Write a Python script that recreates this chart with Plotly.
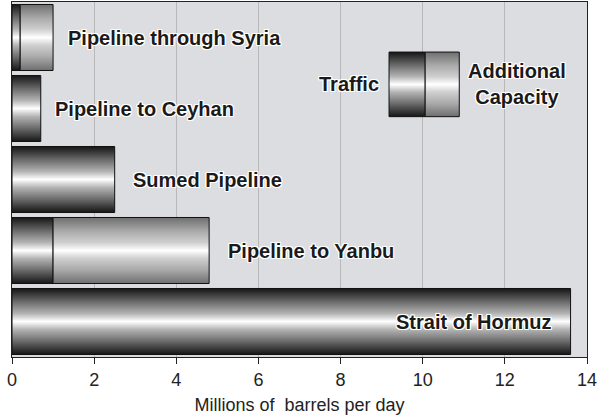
import plotly.graph_objects as go

# ---- data ----
categories = ["Strait of Hormuz", "Pipeline to Yanbu", "Sumed Pipeline",
              "Pipeline to Ceyhan", "Pipeline through Syria"]
traffic = [13.6, 1.0, 2.5, 0.7, 0.2]
additional = [0.0, 3.8, 0.0, 0.0, 0.8]
x_ticks = [0, 2, 4, 6, 8, 10, 12, 14]

# ---- styles ----
FONT = "Liberation Sans, Arial, Helvetica, sans-serif"
dark_scale = [[0, "#151515"], [0.2, "#6a6a6a"], [0.38, "#b4b4b4"], [0.5, "#ffffff"],
              [0.62, "#b4b4b4"], [0.8, "#6a6a6a"], [1, "#151515"]]
light_scale = [[0, "#6e6e6e"], [0.2, "#a8a8a8"], [0.38, "#cfcfcf"], [0.5, "#ffffff"],
               [0.62, "#cfcfcf"], [0.8, "#a8a8a8"], [1, "#6e6e6e"]]
HALF = 0.465
OUTLINE = ("1px 1px 0 #fff, -1px -1px 0 #fff, 1px -1px 0 #fff, -1px 1px 0 #fff, "
           "0 1px 0 #fff, 0 -1px 0 #fff, 1px 0 0 #fff, -1px 0 0 #fff")

fig = go.Figure()


def cyl(x0, x1, yc, half, scale):
    fig.add_trace(go.Scatter(
        x=[x0, x1, x1, x0, x0], y=[yc - half, yc - half, yc + half, yc + half, yc - half],
        mode="lines", fill="toself", line=dict(color="#111", width=1),
        fillgradient=dict(type="vertical", colorscale=scale),
        hoverinfo="skip", showlegend=False))


for i, (t, a) in enumerate(zip(traffic, additional)):
    cyl(0, t, i, HALF, dark_scale)
    if a > 0:
        cyl(t, t + a, i, HALF, light_scale)

# legend glyph (in-plot)
cyl(9.18, 10.06, 3.34, 0.455, dark_scale)
cyl(10.06, 10.89, 3.34, 0.455, light_scale)

lab_font = dict(family=FONT, size=20, color="#1a1a1a", weight="bold", shadow=OUTLINE)
labels = [
    ("Strait of Hormuz", 13.2, 0, "right"),
    ("Pipeline to Yanbu", 5.22, 1, "left"),
    ("Sumed Pipeline", 2.9, 2, "left"),
    ("Pipeline to Ceyhan", 1.0, 3, "left"),
    ("Pipeline through Syria", 1.32, 4, "left"),
]
for txt, x, y, anc in labels:
    fig.add_annotation(x=x, y=y, text=txt, xanchor=anc, yanchor="middle",
                       showarrow=False, font=lab_font)
fig.add_annotation(x=8.98, y=3.34, text="Traffic", xanchor="right", yanchor="middle",
                   showarrow=False, font=lab_font)
fig.add_annotation(x=12.3, y=3.34, text="Additional<br>Capacity", xanchor="center",
                   yanchor="middle", showarrow=False, font=lab_font)

fig.update_layout(
    width=598, height=418,
    margin=dict(l=12, r=11, t=2, b=61),
    paper_bgcolor="white", plot_bgcolor="#dcdde0",
    font=dict(family=FONT, color="#222"),
    xaxis=dict(range=[0, 14], tickvals=x_ticks, showgrid=True, gridcolor="#b8b8b8",
               gridwidth=1, zeroline=False, showline=True, linecolor="#222",
               linewidth=1, mirror=True, ticks="outside", ticklen=6, tickcolor="#222",
               automargin=False,
               tickfont=dict(size=18, color="#222"),
               title=dict(text="Millions of  barrels per day", font=dict(size=18, color="#222"),
                          standoff=9)),
    yaxis=dict(range=[-0.5, 4.5], showticklabels=False, showgrid=False, zeroline=False,
               automargin=False,
               showline=True, linecolor="#222", mirror=True, ticks=""),
)

fig.write_html("out.html", config={"displayModeBar": False},
               post_script="document.body.style.margin='0';")
